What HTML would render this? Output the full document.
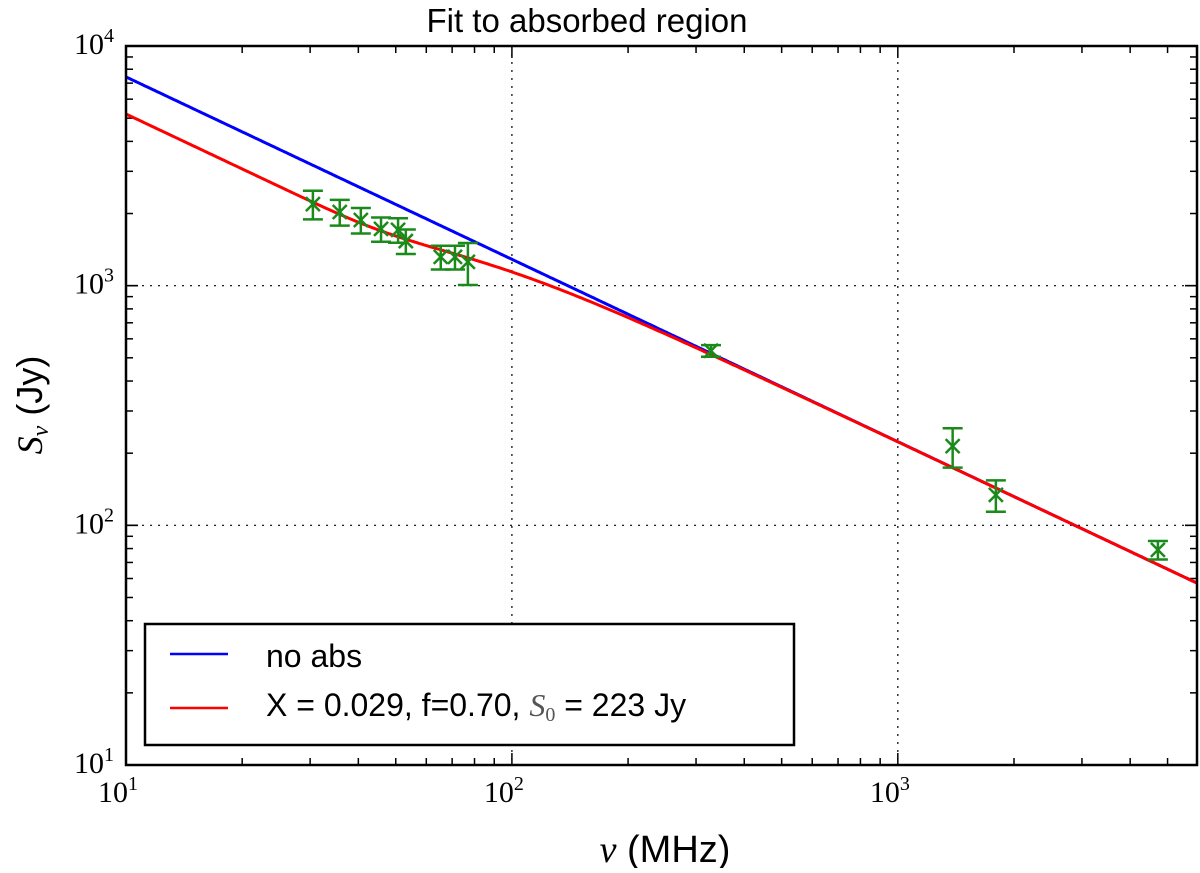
<!DOCTYPE html>
<html><head><meta charset="utf-8"><style>
body{margin:0;background:#fff;}
svg text{font-family:"Liberation Sans",sans-serif;}
.tk{font-family:"Liberation Serif",serif;font-size:30px;}
</style></head><body>
<svg id="chart" width="1200" height="868" xmlns="http://www.w3.org/2000/svg">
<text x="587" y="32" font-size="33" text-anchor="middle">Fit to absorbed region</text>
<g id="grid"></g><g id="ticks"></g><g id="lines"></g><g id="pts"></g>
<rect x="126" y="46" width="1071" height="719" fill="none" stroke="#000" stroke-width="2.5"/>
<text x="665" y="862" font-size="38" text-anchor="middle"><tspan font-family="Liberation Serif" font-style="italic">ν</tspan> (MHz)</text>
<text transform="translate(42,405) rotate(-90)" font-size="36" text-anchor="middle"><tspan font-family="Liberation Serif" font-style="italic">S</tspan><tspan font-family="Liberation Serif" font-style="italic" font-size="24" dy="6">ν</tspan><tspan dy="-6"> (Jy)</tspan></text>
<g>
<rect x="145" y="624" width="649" height="121" fill="#fff" stroke="#000" stroke-width="2.5"/>
<line x1="170" y1="654" x2="228" y2="654" stroke="#00f" stroke-width="2.5"/>
<text x="266" y="667" font-size="32">no abs</text>
<line x1="170" y1="708" x2="228" y2="708" stroke="#f00" stroke-width="2.5"/>
<text x="266" y="716" font-size="32">X = 0.029, f=0.70, <tspan font-family="Liberation Serif" font-style="italic" fill="#555">S</tspan><tspan font-family="Liberation Serif" font-size="20" fill="#555" dy="5">0</tspan><tspan dy="-5"> = 223 Jy</tspan></text>
</g>
</svg>
<script>
const freqs=[30.5,35.8,40.6,45.8,50.7,53.1,65.4,71.2,76.9,328,1387,1795,4720];
const fluxes=[2190,2030,1880,1725,1710,1535,1318,1318,1257,535,214,134,79];
const errs=[300,250,230,200,200,180,150,150,250,30,40,20,7];
const blueAnchor=[10,7430];
const slope=[-0.761];
const absParams=[0.70,0.48];
const xTicks=[10,100,1000];const xTickLabels=["1","2","3"];
const yTicks=[10,100,1000,10000];const yTickLabels=["1","2","3","4"];
const L=126,R=1197,T=46,B=765;
const xmin=1,xmax=Math.log10(5960),ymin=1,ymax=4;
const X=v=>L+(Math.log10(v)-xmin)/(xmax-xmin)*(R-L);
const Y=v=>B-(Math.log10(v)-ymin)/(ymax-ymin)*(B-T);
const NS="http://www.w3.org/2000/svg";
function mk(p,t,a){const e=document.createElementNS(NS,t);for(const k in a)e.setAttribute(k,a[k]);p.appendChild(e);return e;}
const G=document.getElementById('grid'),TK=document.getElementById('ticks');
xTicks.forEach((v,i)=>{const x=X(v);
 if(i>0){const g=mk(G,'line',{x1:x,y1:T,x2:x,y2:B,stroke:'#000','stroke-width':1.2,'stroke-dasharray':'2,6'});
 
 }
 const t=mk(TK,'text',{x:x-8,y:B+37,'text-anchor':'middle',class:'tk'});t.textContent='10';
 
 
 const s=mk(t,'tspan',{dy:-12,'font-size':20});s.textContent=xTickLabels[i];});
yTicks.forEach((v,i)=>{const y=Y(v);
 if(i>0&&i<3){const g=mk(G,'line',{x1:L,y1:y,x2:R,y2:y,stroke:'#000','stroke-width':1.2,'stroke-dasharray':'2,6'});
 
 }
 const t=mk(TK,'text',{x:L-12,y:y+8,'text-anchor':'end',class:'tk'});t.textContent='10';
 
 
 const s=mk(t,'tspan',{dy:-12,'font-size':20});s.textContent=yTickLabels[i];});
for(let d=10;d<=1000;d*=10)for(let m=1;m<=9;m++){const v=d*m;if(v>5960)break;const x=X(v),len=m==1?12:7;
 mk(TK,'line',{x1:x,y1:B,x2:x,y2:B-len,stroke:'#000','stroke-width':1.5});mk(TK,'line',{x1:x,y1:T,x2:x,y2:T+len,stroke:'#000','stroke-width':1.5});}
for(let d=10;d<10000;d*=10)for(let m=1;m<=10;m++){const v=d*m;const y=Y(v),len=(m==1||m==10)?12:7;
 mk(TK,'line',{x1:L,y1:y,x2:L+len,y2:y,stroke:'#000','stroke-width':1.5});mk(TK,'line',{x1:R,y1:y,x2:R-len,y2:y,stroke:'#000','stroke-width':1.5});}
const blue=v=>blueAnchor[1]*Math.pow(v/blueAnchor[0],slope[0]);
const red=v=>blue(v)*(absParams[0]+(1-absParams[0])*Math.exp(-absParams[1]*Math.pow(v/100,-2.1)));
const LN=document.getElementById('lines');
function path(f){let d='';for(let i=0;i<=600;i++){const v=Math.pow(10,xmin+(xmax-xmin)*i/600);d+=(i?'L':'M')+X(v).toFixed(1)+','+Y(f(v)).toFixed(1);}return d;}
const bl=mk(LN,'path',{d:path(blue),fill:'none',stroke:'#00f','stroke-width':3});


const rl=mk(LN,'path',{d:path(red),fill:'none',stroke:'#f00','stroke-width':3});


const P=document.getElementById('pts');
freqs.forEach((f,i)=>{const x=X(f),y=Y(fluxes[i]),y1=Y(fluxes[i]+errs[i]),y2=Y(fluxes[i]-errs[i]);
 const g=mk(P,'g',{stroke:'#1a8a1a','stroke-width':2.5,fill:'none'});
 
 
 mk(g,'line',{x1:x,y1:y1,x2:x,y2:y2});
 mk(g,'line',{x1:x-10,y1:y1,x2:x+10,y2:y1});mk(g,'line',{x1:x-10,y1:y2,x2:x+10,y2:y2});
 mk(g,'line',{x1:x-7,y1:y-7,x2:x+7,y2:y+7});mk(g,'line',{x1:x-7,y1:y+7,x2:x+7,y2:y-7});});
</script>
</body></html>
